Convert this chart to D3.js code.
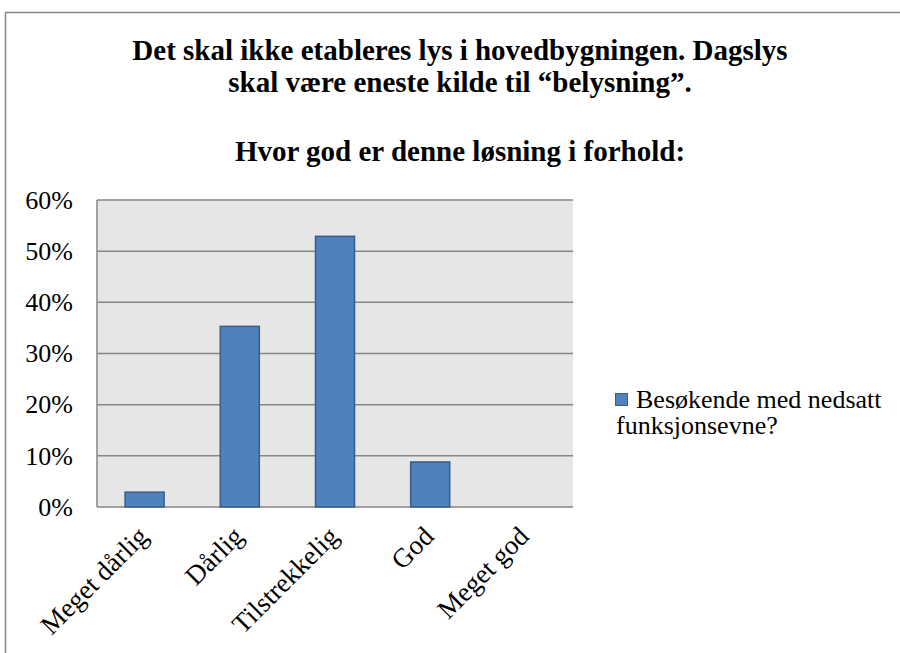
<!DOCTYPE html>
<html>
<head>
<meta charset="utf-8">
<script src="https://cdn.jsdelivr.net/npm/d3@7"></script>
<style>
  body { margin: 0; background: #fff; }
  svg, svg text { font-family: "Times New Roman", "Liberation Serif", serif !important; }
</style>
</head>
<body>
<div id="chart"></div>
<script>
// Data
var categories = ["Meget dårlig", "Dårlig", "Tilstrekkelig", "God", "Meget god"];
var values = [0.029, 0.353, 0.529, 0.088, 0];
var yTicks = [0, 0.1, 0.2, 0.3, 0.4, 0.5, 0.6];
var seriesName = ["Besøkende med nedsatt", "funksjonsevne?"];
var titleLines = ["Det skal ikke etableres lys i hovedbygningen. Dagslys",
                  "skal være eneste kilde til “belysning”."];
var subTitle = "Hvor god er denne løsning i forhold:";

const width = 900, height = 653;
const plot = {left: 97, top: 200, right: 573, bottom: 507};

const barFill = "#4f81bd";
const barStroke = "#385d8a";
const gridColor = "#868686";
const labelSize = 26;
const titleSize = 29;

var svg = d3.select("#chart").append("svg")
    .attr("width", width)
    .attr("height", height);

// Outer chart border (runs off the page right and bottom)
svg.append("rect")
    .attr("x", 5.5).attr("y", 12.5)
    .attr("width", 1000).attr("height", 1000)
    .attr("fill", "#fff")
    .attr("stroke", "#878787")
    .attr("stroke-width", 1.5);

// Titles
svg.selectAll(".title")
    .data(titleLines)
    .enter().append("text")
    .attr("class", "title")
    .attr("x", 460)
    .attr("y", function (d, i) { return 60 + i * 32; })
    .attr("text-anchor", "middle")
    .attr("font-weight", "bold")
    .attr("font-size", titleSize)
    .text(function (d) { return d; });

svg.append("text")
    .attr("x", 460)
    .attr("y", 161)
    .attr("text-anchor", "middle")
    .attr("font-weight", "bold")
    .attr("font-size", titleSize)
    .text(subTitle);

var x = d3.scaleBand()
    .domain(categories)
    .range([plot.left, plot.right])
    .paddingInner(0.59)
    .paddingOuter(0.295);

var xc = d3.scaleBand()
    .domain(categories)
    .range([plot.left, plot.right]);

var y = d3.scaleLinear()
    .domain([0, 0.6])
    .range([plot.bottom, plot.top]);

// Plot background
svg.append("rect")
    .attr("x", plot.left).attr("y", plot.top)
    .attr("width", plot.right - plot.left)
    .attr("height", plot.bottom - plot.top)
    .attr("fill", "#e6e6e6");

// Gridlines
svg.append("g")
    .selectAll("line")
    .data(yTicks)
    .enter().append("line")
    .attr("x1", plot.left).attr("x2", plot.right)
    .attr("y1", function (d) { return y(d); })
    .attr("y2", function (d) { return y(d); })
    .attr("stroke", gridColor)
    .attr("stroke-width", 1.5);

// Left axis line
svg.append("line")
    .attr("x1", plot.left).attr("x2", plot.left)
    .attr("y1", plot.top).attr("y2", plot.bottom)
    .attr("stroke", gridColor)
    .attr("stroke-width", 1.5);

// Y axis labels
var yAxis = d3.axisLeft(y)
    .tickValues(yTicks)
    .tickFormat(d3.format(".0%"))
    .tickSize(0)
    .tickPadding(24);

svg.append("g")
    .attr("transform", "translate(" + plot.left + ",0)")
    .call(yAxis)
    .call(function (g) { g.select(".domain").remove(); })
    .attr("font-family", null)
    .selectAll("text")
    .attr("font-size", labelSize)
    .attr("fill", "#000");

// Bars
svg.append("g")
    .selectAll("rect")
    .data(values)
    .enter().append("rect")
    .attr("x", function (d, i) { return x(categories[i]); })
    .attr("y", function (d) { return y(d); })
    .attr("width", x.bandwidth())
    .attr("height", function (d) { return y(0) - y(d); })
    .attr("fill", barFill)
    .attr("stroke", barStroke)
    .attr("stroke-width", d => d > 0 ? 1.5 : 0);

// X axis labels (rotated)
svg.append("g")
    .selectAll("text")
    .data(categories)
    .enter().append("text")
    .attr("transform", function (d) {
        return "translate(" + (xc(d) + xc.bandwidth() / 2 + 5) + "," + (plot.bottom + 31) + ") rotate(-45)";
    })
    .attr("text-anchor", "end")
    .attr("font-size", 27)
    .attr("fill", "#000")
    .text(function (d) { return d; });

// Legend
svg.append("rect")
    .attr("x", 615.5).attr("y", 393.5)
    .attr("width", 12).attr("height", 12)
    .attr("fill", barFill)
    .attr("stroke", barStroke)
    .attr("stroke-width", 1);

svg.selectAll(".legend")
    .data(seriesName)
    .enter().append("text")
    .attr("class", "legend")
    .attr("x", function (d, i) { return i === 0 ? 636 : 616; })
    .attr("y", function (d, i) { return 408 + i * 26; })
    .attr("font-size", labelSize)
    .attr("fill", "#000")
    .text(function (d) { return d; });
</script>
</body>
</html>
